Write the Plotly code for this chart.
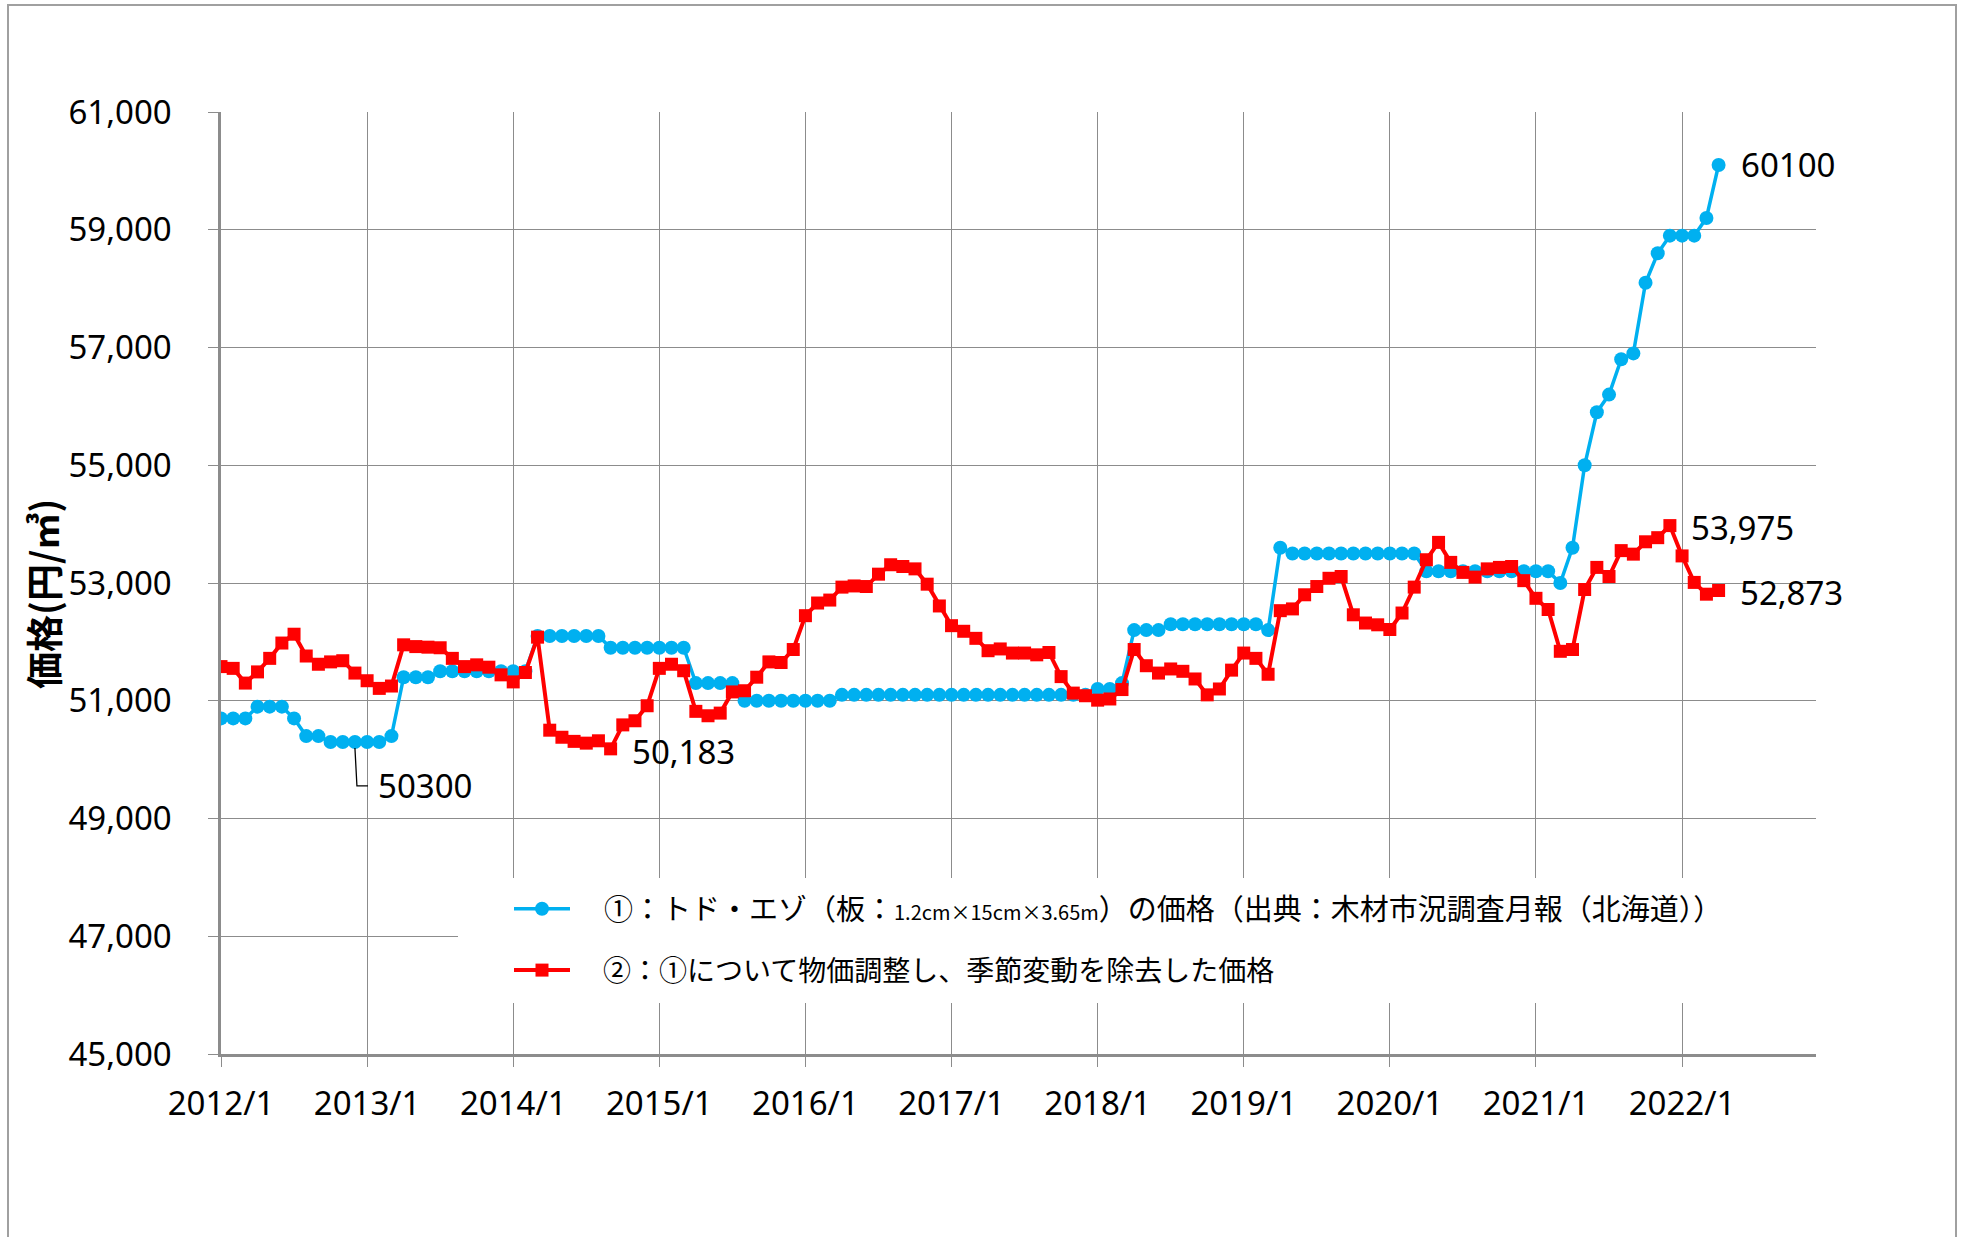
import plotly.graph_objects as go

# ---- data ----
start_year = 2012
n_months = 124  # 2012/1 .. 2022/4
months = [f"{start_year + i // 12}/{i % 12 + 1}" for i in range(n_months)]
tick_labels = ["2012/1", "2013/1", "2014/1", "2015/1", "2016/1", "2017/1",
               "2018/1", "2019/1", "2020/1", "2021/1", "2022/1"]

price_raw = (
    [50700] * 3 + [50900] * 3 + [50700] + [50400] * 2 + [50300] * 5 + [50400]
    + [51400] * 3 + [51500] * 8 + [52100] * 6 + [51900] * 7 + [51300] * 4
    + [51000] * 8 + [51100] * 21 + [51200] * 2 + [51300] + [52200] * 3
    + [52300] * 8 + [52200] + [53600] + [53500] * 11 + [53200] * 11
    + [53000, 53600, 55000, 55900, 56200, 56800, 56900, 58100, 58600,
       58900, 58900, 58900, 59200, 60100]
)

price_adj = [
    51580, 51550, 51300, 51490, 51720, 51980, 52130, 51760, 51620, 51660, 51680, 51470,
    51340, 51210, 51250, 51950, 51920, 51910, 51900, 51720, 51580, 51610, 51570, 51440,
    51320, 51480, 52080, 50500, 50380, 50310, 50280, 50320, 50183, 50590, 50660, 50915,
    51550, 51620, 51510, 50820, 50745, 50790, 51150, 51170, 51400, 51660, 51650, 51870,
    52445, 52660, 52710, 52930, 52950, 52940, 53150, 53310, 53280, 53240, 52980, 52610,
    52275, 52180, 52060, 51850, 51880, 51810, 51810, 51780, 51820, 51410, 51130, 51085,
    51010, 51030, 51190, 51870, 51595, 51470, 51540, 51500, 51370, 51100, 51200, 51520,
    51810, 51720, 51450, 52530, 52560, 52800, 52940, 53080, 53110, 52460, 52320, 52290,
    52210, 52490, 52930, 53395, 53690, 53350, 53180, 53100, 53240, 53265, 53280, 53040,
    52740, 52550, 51840, 51870, 52890, 53265, 53110, 53550, 53490, 53700, 53770, 53975,
    53460, 53010, 52810, 52873,
]

name_raw = ("<span style='font-size:29px'>\u3000①：トド・エゾ（板：</span>"
            "<span style='font-size:20px'>1.2cm×15cm×3.65m</span>"
            "<span style='font-size:29px'>）の価格（出典：木材市況調査月報（北海道））</span>")
name_adj = "\u3000②：①について物価調整し、季節変動を除去した価格"
y_title = "価格(円/㎥)"

# ---- layout constants ----
W, H = 1966, 1237
ML, MR, MT, MB = 221, 150, 112, 183
PW, PH = W - ML - MR, H - MT - MB


def px_x(p):
    return (p - ML) / PW


def px_y(p):
    return (H - MB - p) / PH


BLUE = "#00B0F0"
RED = "#FF0000"
GRID = "#8c8c8c"
NUM_FONT = "Noto Sans"
JP_FONT = "Noto Sans CJK JP"

fig = go.Figure()
fig.add_trace(go.Scatter(
    x=months, y=price_raw, name=name_raw, legendgroup="a",
    mode="lines+markers", line=dict(color=BLUE, width=3.5),
    marker=dict(symbol="circle", size=14, color=BLUE),
))
fig.add_trace(go.Scatter(
    x=months, y=price_adj, name=name_adj, legendgroup="b",
    mode="lines+markers", line=dict(color=RED, width=4),
    marker=dict(symbol="square", size=13, color=RED),
))

ann_font = dict(family=NUM_FONT, size=33, color="black")
annotations = [
    dict(x=months[-1], y=price_raw[-1], text=f"{price_raw[-1]}", xanchor="left",
         yanchor="middle", xshift=20, yshift=0, showarrow=False, font=ann_font),
    dict(x=months[119], y=price_adj[119], text=f"{price_adj[119]:,}", xanchor="left",
         yanchor="middle", xshift=19, yshift=-2, showarrow=False, font=ann_font),
    dict(x=months[-1], y=price_adj[-1], text=f"{price_adj[-1]:,}", xanchor="left",
         yanchor="middle", xshift=19, yshift=-2, showarrow=False, font=ann_font),
    dict(x=months[32], y=price_adj[32], text=f"{price_adj[32]:,}", xanchor="left",
         yanchor="middle", xshift=19, yshift=-3, showarrow=False, font=ann_font),
    dict(x=months[11], y=price_raw[11], text=f"{price_raw[11]}", xanchor="left",
         yanchor="middle", xshift=21, yshift=-44, showarrow=False, font=ann_font),
    # y-axis title
    dict(xref="paper", yref="paper", x=px_x(43), y=px_y(594), text=f"<b>{y_title}</b>",
         textangle=-90, xanchor="center", yanchor="middle", showarrow=False,
         font=dict(family=JP_FONT, size=37, color="black")),
]

shapes = [
    # white box behind legend (hides gridlines)
    dict(type="rect", xref="paper", yref="paper", layer="above",
         x0=px_x(458), x1=px_x(1817), y0=px_y(1003), y1=px_y(878),
         fillcolor="white", line=dict(width=0)),
    # leader line for 50300 label
    dict(type="path", xref="x", yref="y", xsizemode="pixel", ysizemode="pixel",
         xanchor=months[11], yanchor=price_raw[11],
         path="M 0,-6 L 2,-44 L 13,-44", line=dict(color="black", width=1.3)),
    # outer chart frame
    dict(type="rect", xref="paper", yref="paper", layer="below",
         x0=px_x(8), x1=px_x(1956), y0=px_y(1300), y1=px_y(5),
         line=dict(color="#a0a0a0", width=2), fillcolor="rgba(0,0,0,0)"),
]

fig.update_layout(
    width=W, height=H,
    margin=dict(l=ML, r=MR, t=MT, b=MB, autoexpand=False),
    paper_bgcolor="white", plot_bgcolor="white",
    hovermode=False,
    showlegend=True,
    legend=dict(
        x=px_x(509), y=px_y(884), xanchor="left", yanchor="top",
        bgcolor="rgba(0,0,0,0)", borderwidth=0,
        font=dict(family=JP_FONT, size=28, color="black"),
        itemwidth=56, tracegroupgap=22, traceorder="grouped",
    ),
    xaxis=dict(
        type="category", range=[0, 131],
        tickmode="array", tickvals=tick_labels, ticktext=tick_labels,
        showgrid=True, gridcolor=GRID, gridwidth=1.3,
        showline=True, linecolor=GRID, linewidth=3,
        ticks="outside", ticklen=10, tickcolor=GRID, tickwidth=1.3,
        tickfont=dict(family=NUM_FONT, size=33, color="black"),
        ticklabelstandoff=8,
        zeroline=False,
    ),
    yaxis=dict(
        range=[45000, 61000], dtick=2000, tick0=45000, tickformat=",d",
        showgrid=True, gridcolor=GRID, gridwidth=1.3,
        showline=True, linecolor=GRID, linewidth=2.5,
        ticks="outside", ticklen=10, tickcolor=GRID, tickwidth=1.3,
        tickfont=dict(family=NUM_FONT, size=33, color="black"),
        ticklabelstandoff=30,
        zeroline=False,
    ),
    annotations=annotations,
    shapes=shapes,
)

fig.write_html("out.html", config={"displayModeBar": False},
               post_script="document.body.style.margin='0';document.body.style.overflow='hidden';")
